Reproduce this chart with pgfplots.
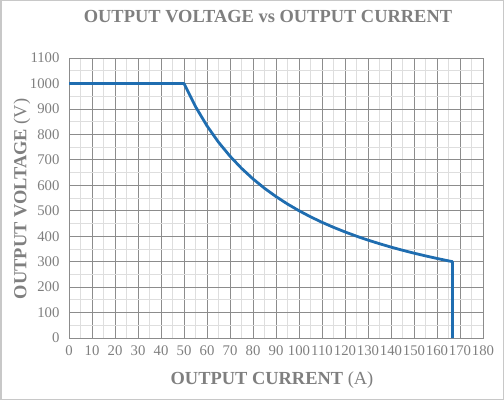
\documentclass[border=0pt]{standalone}
\usepackage{fontspec}
\setmainfont{Liberation Serif}
\usepackage{pgfplots}
\pgfplotsset{compat=1.18}
\definecolor{curve}{HTML}{1F6DB0}
\definecolor{txt}{HTML}{7F7F7F}
\definecolor{majg}{HTML}{8C8C8C}
\definecolor{ming}{HTML}{DEDEDE}
\definecolor{frame}{HTML}{C8C8C8}
\begin{document}
\begin{tikzpicture}[x=1bp,y=1bp]
\path[use as bounding box] (0,0) rectangle (504,400);
\draw[color=frame, line width=1.5bp] (0.75,0.75) rectangle (503.25,399.25);
\node[font=\fontsize{18.5}{20}\selectfont\bfseries, text=txt] at (268,383) {OUTPUT VOLTAGE vs OUTPUT CURRENT};
\node[font=\fontsize{18.5}{20}\selectfont, text=txt] at (272,20) {\textbf{OUTPUT CURRENT} (A)};
\node[font=\fontsize{18.5}{20}\selectfont, text=txt, rotate=90] at (22,201) {\textbf{OUTPUT VOLTAGE} (V)};
\begin{axis}[
  at={(69bp,62bp)}, anchor=south west,
  scale only axis, width=414bp, height=280bp,
  xmin=0, xmax=180, ymin=0, ymax=1100,
  xtick={0,10,...,180}, ytick={0,100,...,1100},
  minor x tick num=1, minor y tick num=1,
  grid=both,
  major grid style={draw=majg, line width=0.7bp},
  minor grid style={draw=ming, line width=0.7bp},
  axis line style={draw=majg, line width=0.7bp},
  major tick length=0pt, minor tick length=0pt,
  tick style={draw=none},
  /pgf/number format/assume math mode=true,
  /pgf/number format/1000 sep={},
  ticklabel style={font=\fontsize{14.8}{16}\selectfont, text=txt},
  xticklabel style={yshift=-7bp, inner sep=0pt},
  yticklabel style={xshift=-6bp},
  clip=false,
]
\addplot[curve, line width=2.8bp, line join=round] coordinates {
(0,1000) (50,1000) (55,909.1) (60,833.3) (65,769.2) (70,714.3) (75,666.7)
(80,625) (85,588.2) (90,555.6) (95,526.3) (100,500) (105,476.2) (110,454.5)
(115,434.8) (120,416.7) (125,400) (130,384.6) (135,370.4) (140,357.1)
(145,344.8) (150,333.3) (155,322.6) (160,312.5) (165,303.0) (166.7,300)
(166.7,0)
};
\end{axis}
\end{tikzpicture}
\end{document}
